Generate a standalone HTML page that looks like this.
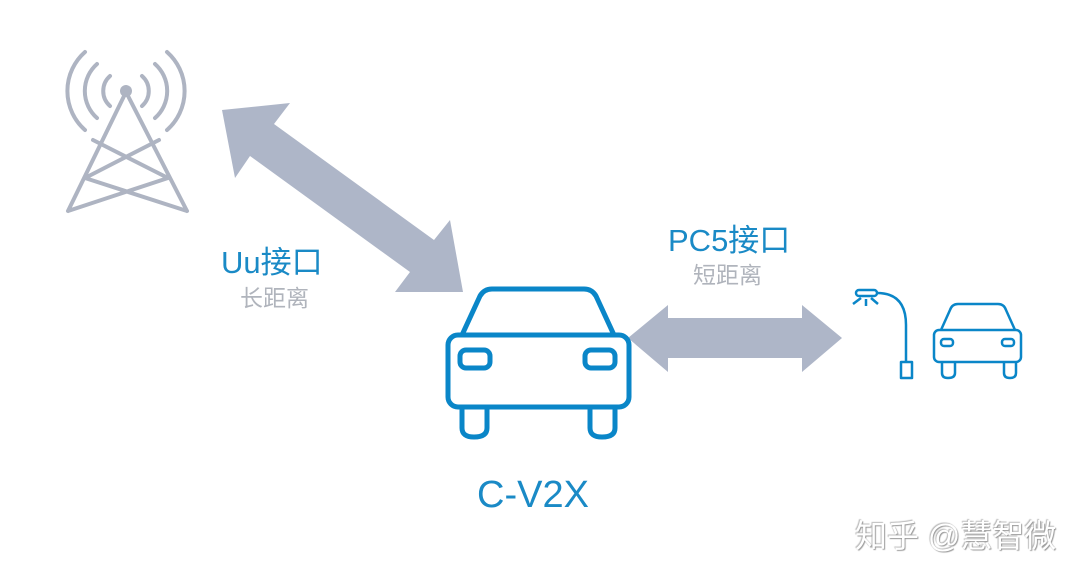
<!DOCTYPE html>
<html><head><meta charset="utf-8"><style>
html,body{margin:0;padding:0;background:#fff;}
body{width:1080px;height:579px;position:relative;overflow:hidden;font-family:"Liberation Sans","Noto Sans CJK SC",sans-serif;}
.t{position:absolute;white-space:nowrap;line-height:1;}
</style></head><body>
<svg width="1080" height="579" style="position:absolute;left:0;top:0">
<!-- tower -->
<g stroke="#aeb4c2" stroke-width="4" fill="none" stroke-linecap="round">
<path d="M126 92 L68 211 M126 92 L187 211 M93 140 L168 178 M159 140 L85 178 M85 178 L187 211 M168 178 L68 211"/>
<path d="M110 76 A20 20 0 0 0 110 106 M142 76 A20 20 0 0 1 142 106"/>
<path d="M97 64 A36 36 0 0 0 97 118 M155 64 A36 36 0 0 1 155 118"/>
<path d="M85 52 A52 52 0 0 0 85 130 M167 52 A52 52 0 0 1 167 130"/>
</g>
<circle cx="126" cy="91" r="6" fill="#aeb4c2"/>
<!-- diagonal arrow -->
<polygon fill="#aeb6c8" points="222,110 290,103 274,124 434,240 450,220 463,292 395,292 410,272 250,156 235,178"/>
<!-- horizontal arrow -->
<polygon fill="#aeb6c8" points="628,338 668,305 668,318 802,318 802,305 842,338 802,372 802,358 668,358 668,372"/>
<!-- big car -->
<g stroke="#0a86c8" stroke-width="5" fill="none" stroke-linejoin="round">
<path d="M462 335 L480 296 Q484 289 492 289 L584 289 Q592 289 596 296 L614 335"/>
<rect x="448" y="335" width="181" height="72" rx="10"/>
<rect x="460" y="350" width="30" height="18" rx="6"/>
<rect x="585" y="350" width="30" height="18" rx="6"/>
<path d="M462 408 L462 428 Q462 437 474 437 Q487 437 487 428 L487 408"/>
<path d="M590 408 L590 428 Q590 437 602 437 Q615 437 615 428 L615 408"/>
</g>
<!-- lamp -->
<g stroke="#0a86c8" stroke-width="2.5" fill="none" stroke-linejoin="round">
<rect x="856" y="290" width="21" height="6" rx="3"/>
<path d="M877 293 Q906 293 906 325 L906 362"/>
<rect x="901" y="362" width="11" height="16"/>
<path d="M866 299 L866 306 M861 298 L853 304 M871 298 L878 304"/>
<!-- small car -->
<path d="M941 330 L950 310 Q952 304 958 304 L998 304 Q1004 304 1006 310 L1015 330"/>
<rect x="934" y="330" width="87" height="32" rx="5"/>
<rect x="941" y="339" width="12" height="7" rx="3"/>
<rect x="1002" y="339" width="12" height="7" rx="3"/>
<path d="M942 362 L942 373 Q942 378 948 378 Q955 378 955 373 L955 362"/>
<path d="M1004 362 L1004 373 Q1004 378 1010 378 Q1016 378 1016 373 L1016 362"/>
</g>
</svg>
<div class="t" style="left:221px;top:247px;font-size:31px;color:#1a8ac6;">Uu接口</div>
<div class="t" style="left:240px;top:287px;font-size:23px;color:#b0b4bc;">长距离</div>
<div class="t" style="left:668px;top:225px;font-size:31px;color:#1a8ac6;">PC5接口</div>
<div class="t" style="left:693px;top:264px;font-size:23px;color:#b0b4bc;">短距离</div>
<div class="t" style="left:477px;top:476px;font-size:38px;color:#1a8ac6;">C-V2X</div>
<div class="t" style="left:855px;top:520px;font-size:32px;color:#fff;text-shadow:1px 1px 1px #999,-1px -1px 1px #bbb;">知乎 @慧智微</div>
</body></html>
